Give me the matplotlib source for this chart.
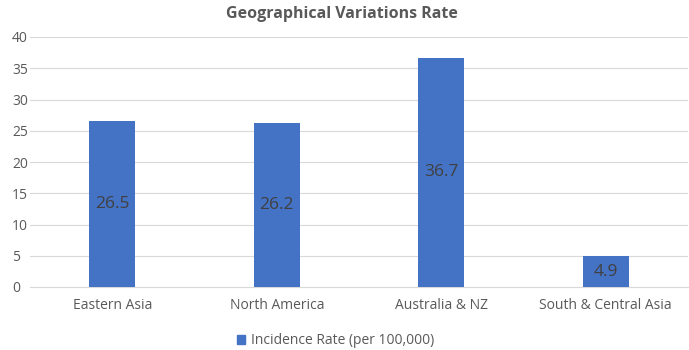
import matplotlib.pyplot as plt
from matplotlib.patches import Patch

# chart data
regions = ['Eastern Asia', 'North America', 'Australia & NZ', 'South & Central Asia']
rates = [26.5, 26.2, 36.7, 4.9]
yticks = [0, 5, 10, 15, 20, 25, 30, 35, 40]

plt.rcParams['font.family'] = ['Open Sans', 'DejaVu Sans']
grey = '#595959'
blue = '#4472C4'

fig = plt.figure(figsize=(6.89, 3.5), dpi=100)
ax = fig.add_axes([30 / 689, 1 - 287 / 350, 658 / 689, 250 / 350])

x = range(len(regions))
bars = ax.bar(x, rates, width=0.28, color=blue, zorder=3)

for b, v in zip(bars, rates):
    ax.text(b.get_x() + b.get_width() / 2, v / 2, f'{v}', ha='center', va='center',
            color='#404040', fontsize=12.5, zorder=4)

ax.set_xlim(-0.5, len(regions) - 0.5)
ax.set_ylim(0, 40)
ax.set_yticks(yticks)
ax.set_xticks(list(x))
ax.set_xticklabels(regions)
ax.tick_params(axis='both', length=0, colors=grey, labelsize=10)
ax.tick_params(axis='x', pad=8)
ax.tick_params(axis='y', pad=13)
for lbl in ax.get_yticklabels():
    lbl.set_horizontalalignment('left')
ax.grid(axis='y', color='#d9d9d9', linewidth=0.8, zorder=0)
for s in ax.spines.values():
    s.set_visible(False)
ax.spines['bottom'].set_visible(True)
ax.spines['bottom'].set_color('#d9d9d9')

fig.text(0.497, 1 - 14 / 350, 'Geographical Variations Rate', ha='center', va='center',
         fontsize=11.5, fontweight='bold', color=grey)

handle = Patch(color=blue)
fig.legend([handle], ['Incidence Rate (per 100,000)'], loc='center',
           bbox_to_anchor=(0.487, 1 - 341 / 350), frameon=False, fontsize=10,
           labelcolor=grey, handlelength=0.6, handleheight=0.6, handletextpad=0.4)

fig.savefig('out.png', dpi=100)
